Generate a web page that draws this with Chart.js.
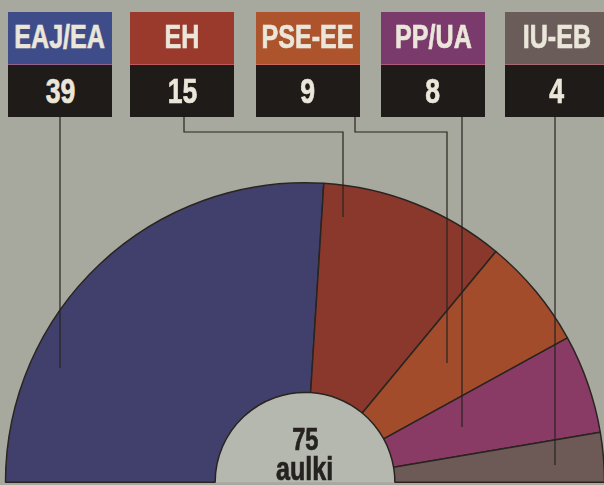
<!DOCTYPE html>
<html lang="eu">
<head>
<meta charset="UTF-8">
<title>Aulkiak</title>
<style>
  body {
    margin: 0;
    width: 604px;
    height: 485px;
    overflow: hidden;
    background-color: #a7a99f;
    font-family: "Liberation Sans", Arial, sans-serif;
    font-weight: bold;
    position: relative;
  }
  #chartBox {
    position: absolute;
    left: 0;
    top: 0;
    width: 610px;
    height: 485px;
  }
  .party {
    position: absolute;
    top: 12px;
    width: 104px;
    z-index: 2;
  }
  .party .name, .party .seats, .total {
    display: flex;
    justify-content: center;
    align-items: center;
    white-space: nowrap;
  }
  .party .name, .party .seats {
    height: 52px;
    color: #ebe6da;
  }
  .party .name { font-size: 33px; border-bottom: 1px solid rgba(230,120,140,0.5); padding-bottom: 2px; height: 50px; }
  .party .seats { font-size: 35px; background-color: #1f1b19; }
  .party span, .total span {
    display: inline-block;
    transform: scaleX(0.76);
    -webkit-text-stroke: 0.7px currentColor;
  }
  .total {
    position: absolute;
    left: 205px;
    width: 200px;
    color: #25221f;
    z-index: 2;
  }
</style>
</head>
<body>
<div id="chartBox"><canvas id="chart"></canvas></div>
<div class="total" style="top:422px;font-size:31px;"><span>75</span></div>
<div class="total" style="top:450px;font-size:33px;"><span>aulki</span></div>

<script src="https://cdn.jsdelivr.net/npm/chart.js"></script>
<script>
  // data
  var parties = ['EAJ/EA', 'EH', 'PSE-EE', 'PP/UA', 'IU-EB'];
  var seats = [39, 15, 9, 8, 4];
  var headerColors = ['#3e4d8a', '#9a3a2d', '#ae542d', '#7a3a6c', '#6a5d59'];
  var sliceColors = ['#41406c', '#8b382c', '#a24c2b', '#893b66', '#6d5a57'];

  // layout of the label boxes and leader lines
  var boxLeft = [8, 130, 256, 381, 505];
  var leaders = [
    { x: 60, bendX: null, endY: 368 },
    { x: 184, bendX: 343, endY: 217 },
    { x: 355, bendX: 447, endY: 363 },
    { x: 462, bendX: null, endY: 427 },
    { x: 555, bendX: null, endY: 465 }
  ];

  // label boxes
  parties.forEach(function (p, i) {
    var div = document.createElement('div');
    div.className = 'party';
    div.style.left = boxLeft[i] + 'px';
    div.innerHTML = '<div class="name" style="background:' + headerColors[i] + '"><span>' + p + '</span></div>' +
      '<div class="seats"><span>' + seats[i] + '</span></div>';
    document.body.appendChild(div);
  });

  var centerFill = {
    id: 'centerFill',
    beforeDatasetsDraw: function (chart) {
      var arc = chart.getDatasetMeta(0).data[0];
      var ctx = chart.ctx;
      ctx.save();
      ctx.fillStyle = '#b5b8af';
      ctx.beginPath();
      ctx.arc(arc.x, arc.y, arc.innerRadius, Math.PI, 2 * Math.PI);
      ctx.fill();
      ctx.restore();
    }
  };

  var leaderLines = {
    id: 'leaderLines',
    afterDatasetsDraw: function (chart) {
      var ctx = chart.ctx;
      ctx.save();
      ctx.strokeStyle = '#26231f';
      ctx.lineWidth = 1.2;
      leaders.forEach(function (l) {
        ctx.beginPath();
        ctx.moveTo(l.x, 117);
        if (l.bendX !== null) {
          ctx.lineTo(l.x, 132);
          ctx.lineTo(l.bendX, 132);
          ctx.lineTo(l.bendX, l.endY);
        } else {
          ctx.lineTo(l.x, l.endY);
        }
        ctx.stroke();
      });
      ctx.restore();
    }
  };

  new Chart(document.getElementById('chart'), {
    type: 'doughnut',
    data: {
      labels: parties,
      datasets: [{
        data: seats,
        backgroundColor: sliceColors,
        borderColor: '#2a2420',
        borderWidth: 1.5
      }]
    },
    options: {
      responsive: true,
      maintainAspectRatio: false,
      animation: false,
      rotation: -90,
      circumference: 180,
      cutout: '30%',
      layout: { padding: { top: 182, left: 4, right: 4, bottom: 2 } },
      plugins: {
        legend: { display: false },
        tooltip: { enabled: false }
      }
    },
    plugins: [centerFill, leaderLines]
  });
</script>
</body>
</html>
